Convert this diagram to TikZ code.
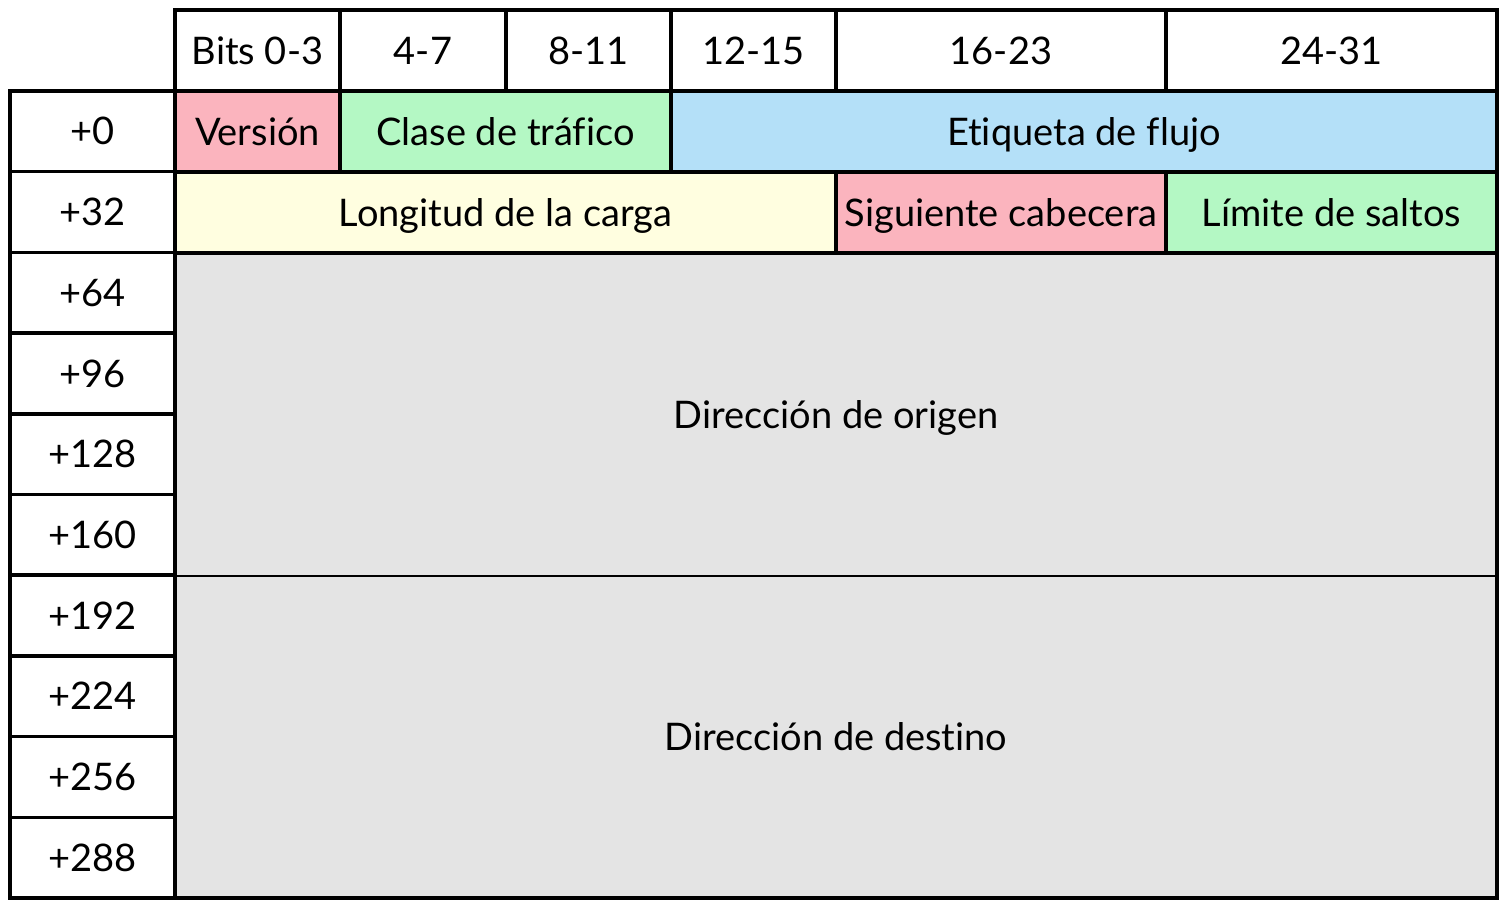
\documentclass[tikz,border=0pt]{standalone}
\usepackage{fontspec}
\setmainfont[Ligatures=NoCommon]{Lato}
\definecolor{cpink}{HTML}{FBB4BE}
\definecolor{cgreen}{HTML}{B4F8C4}
\definecolor{cblue}{HTML}{B4E0F8}
\definecolor{cyellow}{HTML}{FFFEE0}
\definecolor{cgray}{HTML}{E4E4E4}
\tikzset{
  txt/.style={font=\fontsize{38}{44}\selectfont, text height=27.2pt, text depth=0pt},
  cell/.style={draw=black, line width=3.6pt, inner sep=0pt, outer sep=0pt, txt, anchor=north west},
  gcell/.style={fill=cgray, inner sep=0pt, outer sep=0pt, txt, anchor=north west}
}
\begin{document}
\begin{tikzpicture}[x=1pt,y=-1pt]
\useasboundingbox (0,0) rectangle (1507,909);
% header row
\node[cell, minimum width=165pt, minimum height=81pt] (h0) at (175,10) {Bits 0-3};
\node[cell, minimum width=166pt, minimum height=81pt] (h1) at (340,10) {4-7};
\node[cell, minimum width=165pt, minimum height=81pt] (h2) at (506,10) {8-11};
\node[cell, minimum width=165pt, minimum height=81pt] (h3) at (671,10) {12-15};
\node[cell, minimum width=330pt, minimum height=81pt] (h4) at (836,10) {16-23};
\node[cell, minimum width=331pt, minimum height=81pt] (h5) at (1166,10) {24-31};
% row 0
\node[cell, fill=cpink, minimum width=165pt, minimum height=81pt] (ver) at (175,91) {Versión};
\node[cell, fill=cgreen, minimum width=331pt, minimum height=81pt] (cls) at (340,91) {Clase de tráfico};
\node[cell, fill=cblue, minimum width=826pt, minimum height=81pt] (flj) at (671,91) {Etiqueta de flujo};
% row 32
\node[cell, fill=cyellow, minimum width=661pt, minimum height=81pt] (lon) at (175,172) {Longitud de la carga};
\node[cell, fill=cpink, minimum width=330pt, minimum height=81pt] (sig) at (836,172) {Siguiente cabecera};
\node[cell, fill=cgreen, minimum width=331pt, minimum height=81pt] (lim) at (1166,172) {Límite de saltos};
% addresses
\node[gcell, minimum width=1322pt, minimum height=323pt] (src) at (175,253) {Dirección de origen};
\node[gcell, minimum width=1322pt, minimum height=322pt] (dst) at (175,576) {Dirección de destino};
\draw[line width=2pt] (src.south west) -- (src.south east);
\draw[line width=3.6pt] (src.north west) rectangle (dst.south east);
% left column
\foreach \lab [count=\i from 0] in {+0,+32,+64,+96,+128,+160,+192,+224,+256,+288}{
  \node[cell, minimum width=165pt, minimum height=80.7pt] (r\i) at (10,91+80.7*\i) {\lab};
}
\end{tikzpicture}
\end{document}
